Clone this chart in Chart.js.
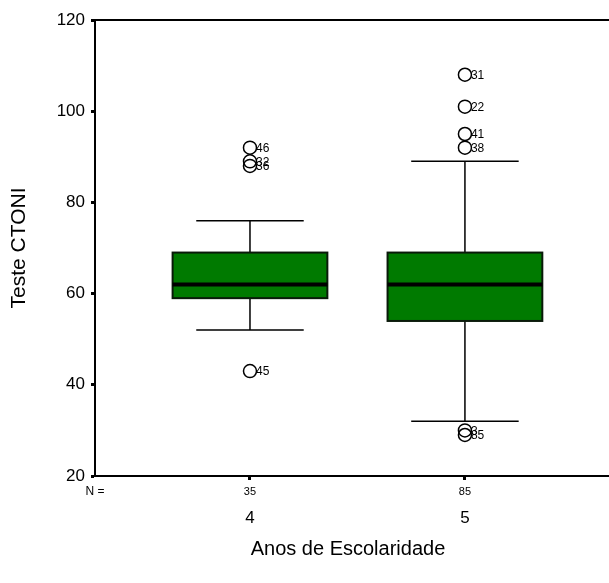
<!DOCTYPE html>
<html>
<head>
<meta charset="utf-8">
<script src="https://cdn.jsdelivr.net/npm/chart.js@4.4.1/dist/chart.umd.min.js"></script>
<style>
  html, body { margin: 0; padding: 0; background: #fff; }
  #wrap { width: 609px; height: 583px; }
</style>
</head>
<body>
<div id="wrap"><canvas id="boxChart"></canvas></div>
<script>
// Boxplot: Teste CTONI by Anos de Escolaridade (SPSS style)
const categories  = [4, 5];
const counts      = [35, 85];
const whiskerLow  = [52, 32];
const q1          = [59, 54];
const medians     = [62, 62];
const q3          = [69, 69];
const whiskerHigh = [76, 89];
const outlierValues = [[92, 89, 88, 43], [108, 101, 95, 92, 30, 29]];
const outlierIds    = [['46', '32', '36', '45'], ['31', '22', '41', '38', '3', '85']];
const yTicks = [20, 40, 60, 80, 100, 120];

const FONT = 'Liberation Sans, Arial, sans-serif';
const BOX_FILL = '#007a00';
const BOX_HALF = 0.36;   // in category units
const CAP_HALF = 0.25;

const outlierPoints = [];
categories.forEach((c, i) => {
  outlierValues[i].forEach((v, j) => outlierPoints.push({ x: c, y: v, id: outlierIds[i][j] }));
});

const boxPlugin = {
  id: 'boxes',
  beforeDatasetsDraw(chart) {
    const { ctx, scales: { x, y } } = chart;
    ctx.save();
    categories.forEach((c, i) => {
      const cx = x.getPixelForValue(c);
      const l = x.getPixelForValue(c - BOX_HALF), r = x.getPixelForValue(c + BOX_HALF);
      const capL = x.getPixelForValue(c - CAP_HALF), capR = x.getPixelForValue(c + CAP_HALF);
      const yQ1 = y.getPixelForValue(q1[i]), yQ3 = y.getPixelForValue(q3[i]);
      const yLo = y.getPixelForValue(whiskerLow[i]), yHi = y.getPixelForValue(whiskerHigh[i]);
      const yMed = y.getPixelForValue(medians[i]);

      ctx.strokeStyle = '#000';
      ctx.lineWidth = 1.5;
      ctx.beginPath();
      ctx.moveTo(cx, yQ3); ctx.lineTo(cx, yHi);
      ctx.moveTo(capL, yHi); ctx.lineTo(capR, yHi);
      ctx.moveTo(cx, yQ1); ctx.lineTo(cx, yLo);
      ctx.moveTo(capL, yLo); ctx.lineTo(capR, yLo);
      ctx.stroke();

      ctx.fillStyle = BOX_FILL;
      ctx.fillRect(l, yQ3, r - l, yQ1 - yQ3);
      ctx.lineWidth = 2;
      ctx.strokeStyle = '#0a1a0a';
      ctx.strokeRect(l, yQ3, r - l, yQ1 - yQ3);

      ctx.lineWidth = 4;
      ctx.strokeStyle = '#000';
      ctx.beginPath();
      ctx.moveTo(l, yMed); ctx.lineTo(r, yMed);
      ctx.stroke();
    });
    ctx.restore();
  },
  afterDatasetsDraw(chart) {
    const { ctx, chartArea, scales: { x, y } } = chart;
    ctx.save();
    // outlier case labels
    ctx.fillStyle = '#000';
    ctx.font = '12px ' + FONT;
    ctx.textBaseline = 'middle';
    outlierPoints.forEach(p => {
      ctx.fillText(p.id, x.getPixelForValue(p.x) + 6, y.getPixelForValue(p.y) + 1);
    });
    // top and bottom frame lines run to the canvas edge
    ctx.strokeStyle = '#000';
    ctx.lineWidth = 2;
    ctx.beginPath();
    ctx.moveTo(chartArea.left, chartArea.top);
    ctx.lineTo(chart.width, chartArea.top);
    ctx.moveTo(chartArea.left, chartArea.bottom);
    ctx.lineTo(chart.width, chartArea.bottom);
    ctx.stroke();
    // N row
    ctx.font = '12px ' + FONT;
    ctx.textAlign = 'center';
    const ny = chartArea.bottom + 16;
    ctx.fillText('N =', chartArea.left, ny);
    ctx.font = '11px ' + FONT;
    categories.forEach((c, i) => ctx.fillText(String(counts[i]), x.getPixelForValue(c), ny));
    ctx.restore();
  }
};

new Chart(document.getElementById('boxChart'), {
  type: 'scatter',
  data: {
    datasets: [{
      data: outlierPoints,
      pointStyle: 'circle',
      pointRadius: 6.5,
      pointHoverRadius: 6.5,
      borderColor: '#000',
      borderWidth: 1.5,
      backgroundColor: 'rgba(255,255,255,0)',
    }],
  },
  options: {
    responsive: true,
    maintainAspectRatio: false,
    animation: false,
    layout: { padding: { top: 20, right: 0, left: 0, bottom: 0 } },
    plugins: {
      legend: { display: false },
      tooltip: { enabled: false },
    },
    scales: {
      x: {
        type: 'linear',
        min: 3.279,
        max: 5.633,
        afterBuildTicks: s => { s.ticks = categories.map(v => ({ value: v })); },
        afterFit: s => { s.height = 107; },
        grid: { drawOnChartArea: false, tickLength: 4, tickWidth: 3, tickColor: '#000' },
        border: { display: true, color: '#000', width: 2 },
        ticks: { color: '#000', padding: 28, maxRotation: 0, font: { family: FONT, size: 17 }, callback: v => String(v) },
        title: { display: true, text: 'Anos de Escolaridade', color: '#000', font: { family: FONT, size: 20 }, padding: { top: 0, bottom: 22 } },
      },
      y: {
        min: 20,
        max: 120,
        afterBuildTicks: s => { s.ticks = yTicks.map(v => ({ value: v })); },
        afterFit: s => { s.width = 95; },
        grid: { drawOnChartArea: false, tickLength: 4, tickWidth: 3, tickColor: '#000' },
        border: { display: true, color: '#000', width: 2 },
        ticks: { color: '#000', padding: 6, font: { family: FONT, size: 17 } },
        title: { display: true, text: 'Teste CTONI', color: '#000', font: { family: FONT, size: 21 }, padding: { top: 7, bottom: 0 } },
      },
    },
  },
  plugins: [boxPlugin],
});
</script>
</body>
</html>
